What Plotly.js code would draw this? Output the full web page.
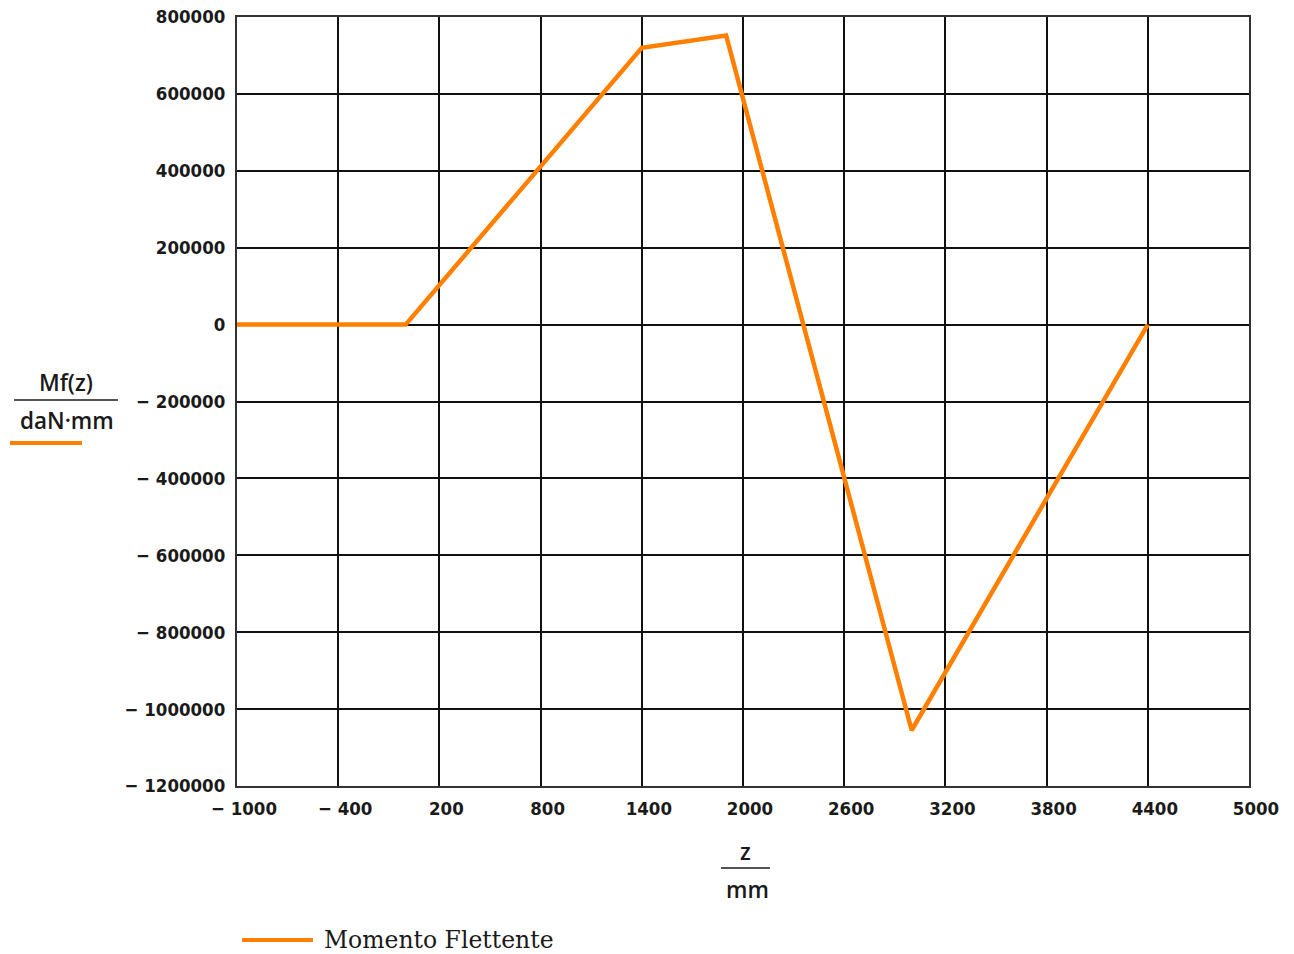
<!DOCTYPE html>
<html>
<head>
<meta charset="utf-8">
<script src="https://cdn.plot.ly/plotly-3.0.1.min.js"></script>
<style>
html,body{margin:0;padding:0;background:#fff;}
#chart{width:1294px;height:954px;}
</style>
</head>
<body>
<div id="chart"></div>
<script>
// Data
var zValues = [-1000, 0, 1400, 1900, 3000, 4400];
var mfValues = [0, 0, 720000, 752000, -1055000, 0];

var xTickVals = [-1000, -400, 200, 800, 1400, 2000, 2600, 3200, 3800, 4400, 5000];
var xTickText = ["\u2212 1000", "\u2212 400", "200", "800", "1400", "2000", "2600", "3200", "3800", "4400", "5000"];
var yTickVals = [800000, 600000, 400000, 200000, 0, -200000, -400000, -600000, -800000, -1000000, -1200000];
var yTickText = ["800000", "600000", "400000", "200000", "0", "\u2212 200000", "\u2212 400000", "\u2212 600000", "\u2212 800000", "\u2212 1000000", "\u2212 1200000"];

var seriesName = "Momento Flettente";
var orange = "#FF8000";
var tickFont = {family: "DejaVu Sans Condensed, Liberation Sans Narrow, sans-serif", size: 18.5, color: "#1a1a1a", weight: "bold"};
var titleFont = {family: "Open Sans, DejaVu Sans, sans-serif", size: 22.5, color: "#1a1a1a", weight: 600};

var trace = {
  x: zValues, y: mfValues, type: "scatter", mode: "lines",
  name: seriesName,
  line: {color: orange, width: 4.5},
  showlegend: false
};

var layout = {
  width: 1294, height: 954,
  paper_bgcolor: "#fff", plot_bgcolor: "#fff",
  margin: {l: 237, r: 45, t: 17, b: 168},
  xaxis: {
    range: [-1000, 5000], tickvals: xTickVals, ticktext: xTickText,
    showgrid: true, gridcolor: "#111", gridwidth: 2,
    zeroline: false, showline: true, linecolor: "#333", linewidth: 2, mirror: true,
    ticks: "", tickfont: tickFont, ticklabelshift: 7, ticklabelstandoff: 5
  },
  yaxis: {
    range: [-1200000, 800000], tickvals: yTickVals, ticktext: yTickText,
    showgrid: true, gridcolor: "#111", gridwidth: 2,
    zeroline: false, showline: true, linecolor: "#333", linewidth: 2, mirror: true,
    ticks: "", tickfont: tickFont, ticklabelstandoff: 6
  },
  shapes: [
    {type: "line", xref: "paper", yref: "paper",
     x0: (14-237)/1012, x1: (118-237)/1012, y0: (954-168-400)/769, y1: (954-168-400)/769,
     line: {color: "#1a1a1a", width: 1.5}},
    {type: "line", xref: "paper", yref: "paper",
     x0: (10-237)/1012, x1: (82-237)/1012, y0: (954-168-443)/769, y1: (954-168-443)/769,
     line: {color: orange, width: 4}},
    {type: "line", xref: "paper", yref: "paper",
     x0: (721-237)/1012, x1: (770-237)/1012, y0: (954-168-868)/769, y1: (954-168-868)/769,
     line: {color: "#1a1a1a", width: 1.5}},
    {type: "line", xref: "paper", yref: "paper",
     x0: (242-237)/1012, x1: (313-237)/1012, y0: (954-168-940)/769, y1: (954-168-940)/769,
     line: {color: orange, width: 4}}
  ],
  annotations: [
    {text: "Mf(z)", xref: "paper", yref: "paper", x: (66-237)/1012, y: (954-168-382)/769,
     showarrow: false, xanchor: "center", yanchor: "middle", font: titleFont},
    {text: "daN\u00b7mm", xref: "paper", yref: "paper", x: (67-237)/1012, y: (954-168-421)/769,
     showarrow: false, xanchor: "center", yanchor: "middle", font: titleFont},
    {text: "z", xref: "paper", yref: "paper", x: (745-237)/1012, y: (954-168-851)/769,
     showarrow: false, xanchor: "center", yanchor: "middle", font: titleFont},
    {text: "mm", xref: "paper", yref: "paper", x: (747-237)/1012, y: (954-168-889)/769,
     showarrow: false, xanchor: "center", yanchor: "middle", font: titleFont},
    {text: seriesName, xref: "paper", yref: "paper", x: (322-237)/1012, y: (954-168-940)/769,
     showarrow: false, xanchor: "left", yanchor: "middle",
     font: {family: "DejaVu Serif, Liberation Serif, serif", size: 23.5, color: "#1a1a1a"}}
  ]
};

Plotly.newPlot("chart", [trace], layout, {displayModeBar: false, staticPlot: true});
</script>
</body>
</html>
